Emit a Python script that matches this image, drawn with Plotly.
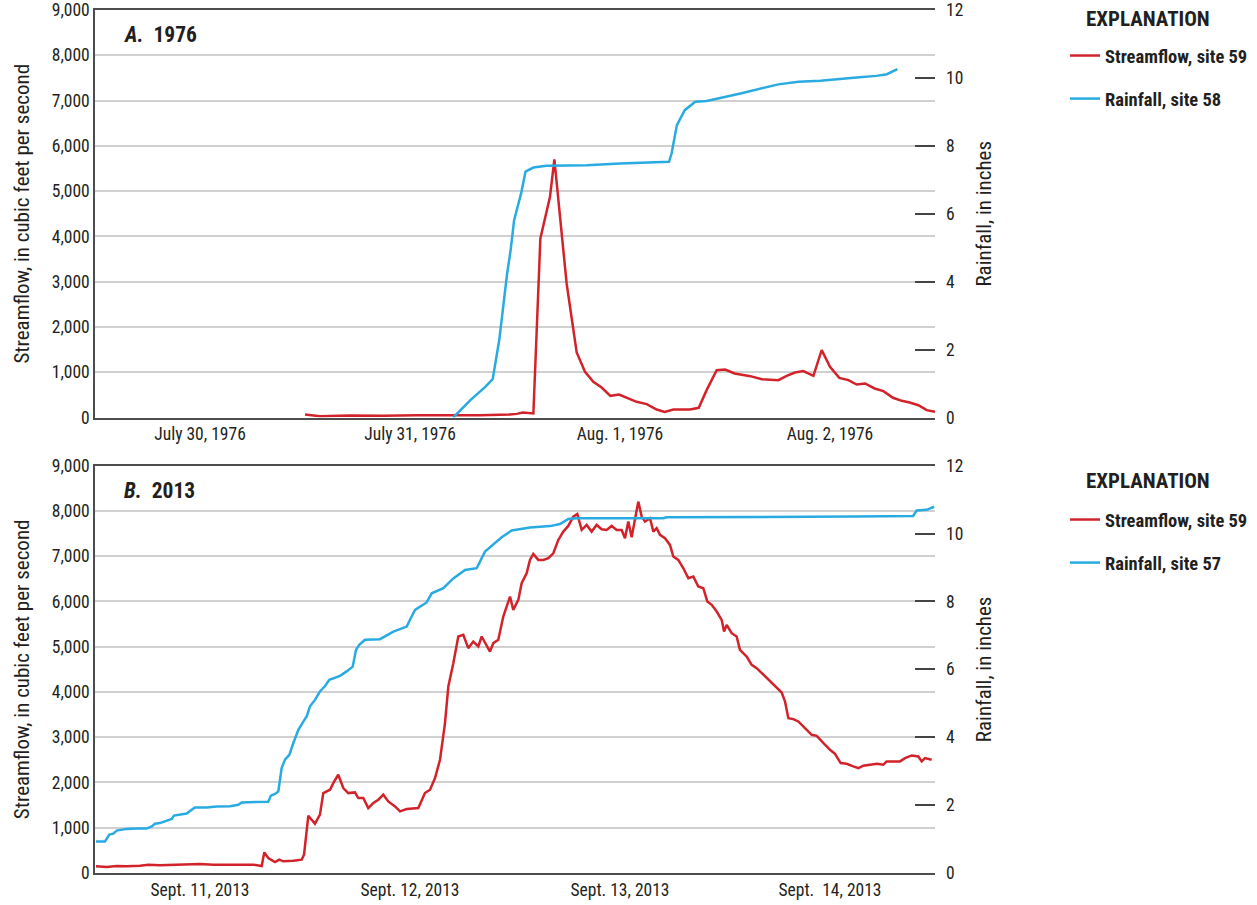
import pandas as pd
import plotly.graph_objects as go

# ---------------- DATA ----------------
# Panel A (1976): hours after 1976-07-30 00:00
flow76_hours = [24.0, 25.7, 29.1, 33.0, 36.8, 40.0, 44.0, 47.4, 48.2, 48.9, 50.1, 50.9, 52.0, 52.5,
                53.9, 55.05, 56.0, 56.95, 57.9, 58.9, 59.9, 61.9, 63.05, 64.2, 65.1, 66.1, 68.0,
                69.0, 69.9, 71.05, 72.0, 73.1, 74.9, 76.2, 78.1, 79.05, 80.0, 80.95, 82.1, 83.05,
                84.0, 85.06, 86.1, 87.05, 88.0, 89.1, 90.1, 91.2, 92.2, 93.1, 94.1, 95.05, 96.0]
flow76_cfs = [66, 30, 44, 37, 52, 45, 50, 66, 80, 110, 90, 3955, 4875, 5700,
              2960, 1436, 1009, 788, 663, 479, 508, 346, 295, 177, 125, 177, 177,
              214, 604, 1046, 1060, 972, 913, 847, 825, 920, 994, 1024, 920, 1488,
              1120, 876, 825, 729, 751, 641, 582, 435, 368, 331, 272, 162, 125]

rain76_hours = [40.95, 42.9, 44.6, 45.45, 46.2, 46.5, 47.1, 47.5, 47.9, 48.2, 48.7, 49.2, 50.1,
                51.6, 56.2, 60.0, 63.8, 65.6, 65.9, 66.5, 67.4, 68.6, 69.9, 72.2, 73.9, 78.1,
                80.4, 82.9, 84.8, 87.05, 89.3, 90.5, 91.7]
rain76_in = [0.0, 0.51, 0.90, 1.13, 2.28, 2.97, 4.24, 4.93, 5.81, 6.11, 6.60, 7.24, 7.36,
             7.41, 7.43, 7.48, 7.50, 7.53, 7.78, 8.61, 9.05, 9.30, 9.32, 9.45, 9.55, 9.81,
             9.89, 9.92, 9.97, 10.01, 10.06, 10.11, 10.26]

# Panel B (2013): hours after 2013-09-11 00:00
flow13_hours = [0.11, 1.34, 2.48, 3.62, 5.14, 6.09, 7.43, 8.95, 10.48, 12.0, 13.52, 15.8, 18.09,
                19.05, 19.35, 19.8, 20.57, 21.06, 21.52, 22.66, 23.62, 23.89, 24.19, 24.38,
                25.14, 25.71, 26.09, 26.48, 26.86, 27.23, 27.8, 28.38, 28.95, 29.71, 30.09,
                30.66, 31.23, 31.81, 32.38, 32.95, 33.52, 34.29, 34.86, 35.62, 36.95, 37.71,
                38.29, 38.86, 39.43, 40.0, 40.38, 40.95, 41.52, 42.09, 42.66, 43.23, 43.81,
                44.19, 44.76, 45.14, 45.52, 46.09, 46.66, 47.43, 47.8, 48.38, 48.76, 49.33,
                49.71, 50.09, 50.66, 51.23, 51.81, 52.38, 52.95, 53.52, 54.09, 54.66, 55.12,
                55.62, 56.19, 56.76, 57.33, 57.9, 58.47, 59.05, 59.62, 60.19, 60.57, 60.95,
                61.33, 61.71, 62.09, 62.48, 62.86, 63.43, 63.81, 64.19, 64.57, 65.14, 65.71,
                66.09, 66.66, 67.24, 67.81, 68.38, 68.95, 69.52, 69.98, 70.48, 71.05, 71.62,
                71.89, 72.19, 72.76, 73.33, 73.71, 74.48, 75.05, 75.62, 76.38, 77.14, 77.9,
                78.48, 78.86, 79.24, 79.81, 80.38, 81.14, 81.91, 82.48, 82.86, 83.43, 84.0,
                84.57, 85.22, 85.9, 86.66, 87.24, 87.81, 88.57, 89.34, 90.09, 90.48, 91.23,
                92.0, 92.57, 93.34, 94.09, 94.48, 94.86, 95.62]
flow13_cfs = [147, 132, 155, 147, 162, 184, 169, 177, 199, 199, 184, 184, 184,
              155, 456, 331, 243, 294, 258, 272, 294, 405, 1030, 1266,
              1089, 1288, 1766, 1803, 1840, 1987, 2171, 1877, 1766, 1781, 1656,
              1656, 1435, 1546, 1619, 1730, 1582, 1472, 1362, 1413, 1435, 1766,
              1840, 2098, 2502, 3312, 4122, 4637, 5226, 5262, 4968, 5115, 5005,
              5226, 5042, 4894, 5078, 5152, 5667, 6109, 5814, 6035, 6403, 6624,
              6918, 7050, 6918, 6918, 6955, 7065, 7360, 7544, 7669, 7875, 7934,
              7581, 7691, 7544, 7691, 7596, 7581, 7669, 7581, 7581, 7397, 7765,
              7419, 7802, 8206, 7875, 7765, 7838, 7544, 7618, 7471, 7397, 7250,
              6992, 6918, 6734, 6514, 6550, 6330, 6293, 6000, 5925, 5778, 5594,
              5336, 5483, 5299, 5226, 4931, 4784, 4600, 4526, 4379, 4232, 4107,
              3989, 3790, 3422, 3400, 3348, 3201, 3054, 3032, 2944, 2834, 2723,
              2635, 2429, 2414, 2355, 2318, 2370, 2392, 2414, 2392, 2466, 2466,
              2466, 2539, 2598, 2576, 2466, 2539, 2502]

rain13_hours = [0.11, 1.14, 1.64, 2.1, 2.48, 3.62, 4.76, 5.9, 6.48, 6.86, 7.43, 8.0, 8.76, 9.03,
                9.71, 10.48, 11.05, 11.43, 12.76, 13.9, 15.43, 16.38, 16.76, 18.09, 19.8, 20.1,
                20.57, 20.95, 21.33, 21.71, 22.21, 22.67, 23.24, 23.81, 24.19, 24.57, 25.14,
                25.71, 26.29, 26.78, 28.0, 28.76, 29.45, 29.83, 30.2, 30.86, 32.57, 34.1,
                35.62, 36.0, 36.57, 37.9, 38.48, 39.81, 40.95, 42.29, 43.62, 44.57, 45.52,
                46.48, 47.62, 49.71, 52.0, 53.14, 54.1, 55.05, 61.1, 64.95, 65.33, 85.1,
                86.67, 93.5, 93.9, 95.05, 95.9]
rain13_in = [0.93, 0.93, 1.13, 1.16, 1.25, 1.30, 1.31, 1.31, 1.37, 1.45, 1.47, 1.53, 1.59, 1.69,
             1.72, 1.75, 1.86, 1.93, 1.93, 1.96, 1.97, 2.01, 2.08, 2.09, 2.10, 2.28,
             2.33, 2.40, 3.09, 3.34, 3.48, 3.83, 4.22, 4.46, 4.61, 4.91, 5.10,
             5.35, 5.51, 5.69, 5.81, 5.94, 6.08, 6.57, 6.72, 6.87, 6.89, 7.11,
             7.26, 7.46, 7.75, 7.97, 8.24, 8.39, 8.68, 8.93, 8.98, 9.47, 9.67,
             9.89, 10.09, 10.18, 10.22, 10.28, 10.43, 10.45, 10.45, 10.45, 10.48, 10.48,
             10.50, 10.52, 10.68, 10.70, 10.79]

start76 = "1976-07-30"
start13 = "2013-09-11"
day_labels76 = ["July 30, 1976", "July 31, 1976", "Aug. 1, 1976", "Aug. 2, 1976"]
day_labels13 = ["Sept. 11, 2013", "Sept. 12, 2013", "Sept. 13, 2013", "Sept.\u00a0 14, 2013"]
flow_ticks = [0, 1000, 2000, 3000, 4000, 5000, 6000, 7000, 8000, 9000]
rain_ticks = [0, 2, 4, 6, 8, 10, 12]

# ---------------- STYLE ----------------
RED = "#d2232a"
BLUE = "#29abe2"
FONT = "Liberation Sans Narrow, Roboto Condensed, Arial Narrow, Roboto, sans-serif"
AX = "#4d4d4d"
GRID = "#d0d0d0"
TXT = "#231f20"


def to_time(start, hours):
    return pd.Timestamp(start) + pd.to_timedelta(pd.Series(hours), unit="h")


fig = go.Figure()

W, H = 1257, 905
ML, MR, MT, MB = 95, 322, 10, 32
PW = W - ML - MR
ph = H - MT - MB
domA = [(H - MB - 417.5) / ph, 1.0]
domB = [0.0, (H - MB - 465.7) / ph]

panels = [
    dict(start=start76, fh=flow76_hours, fv=flow76_cfs, rh=rain76_hours, rv=rain76_in,
         labels=day_labels76, rain_name="Rainfall, site 58", letter="A.", year="1976",
         xa="x", ya="y", ya2="y2", xt="x3", legend="legend", dom=domA),
    dict(start=start13, fh=flow13_hours, fv=flow13_cfs, rh=rain13_hours, rv=rain13_in,
         labels=day_labels13, rain_name="Rainfall, site 57", letter="B.", year="2013",
         xa="x2", ya="y3", ya2="y4", xt="x4", legend="legend2", dom=domB),
]

for p in panels:
    fig.add_trace(go.Scatter(x=to_time(p["start"], p["fh"]), y=p["fv"], mode="lines",
                             line=dict(color=RED, width=2.5),
                             name="<b>Streamflow, site 59</b>",
                             xaxis=p["xa"], yaxis=p["ya"], legend=p["legend"],
                             legendgroup=p["legend"] + "f"))
    fig.add_trace(go.Scatter(x=to_time(p["start"], p["rh"]), y=p["rv"], mode="lines",
                             line=dict(color=BLUE, width=2.5),
                             name="<b>" + p["rain_name"] + "</b>",
                             xaxis=p["xa"], yaxis=p["ya2"], legend=p["legend"],
                             legendgroup=p["legend"] + "r"))

layout = dict(width=W, height=H,
              margin=dict(l=ML, r=MR, t=MT, b=MB, autoexpand=False),
              paper_bgcolor="white", plot_bgcolor="white",
              font=dict(family=FONT, size=17, color=TXT))

for p in panels:
    s = pd.Timestamp(p["start"])
    rng = [s, s + pd.Timedelta(days=4)]
    noons = [s + pd.Timedelta(hours=12 + 24 * k) for k in range(4)]
    mids = [s + pd.Timedelta(days=k) for k in range(1, 4)]
    xa_key = "xaxis" if p["xa"] == "x" else "xaxis" + p["xa"][1:]
    xt_key = "xaxis" + p["xt"][1:]
    ya_key = "yaxis" if p["ya"] == "y" else "yaxis" + p["ya"][1:]
    ya2_key = "yaxis" + p["ya2"][1:]
    layout[xa_key] = dict(range=rng, type="date", anchor=p["ya"], domain=[0, 1],
                          tickvals=noons, ticktext=p["labels"], ticks="",
                          showline=True, linecolor=AX, linewidth=1.5, mirror=True,
                          showgrid=False, zeroline=False, tickfont=dict(size=17.5),
                          automargin=False)
    layout[xt_key] = dict(range=rng, type="date", anchor=p["ya"], overlaying=p["xa"],
                          tickvals=mids, ticks="inside", ticklen=18, tickwidth=1.5,
                          tickcolor="#333", mirror="ticks", showticklabels=False,
                          showline=False, showgrid=False, zeroline=False,
                          automargin=False)
    layout[ya_key] = dict(range=[0, 9000], domain=p["dom"], anchor=p["xa"],
                          tickvals=flow_ticks, tickformat=",", ticks="",
                          showgrid=True, gridcolor=GRID, gridwidth=1.5, zeroline=False,
                          showline=True, linecolor=AX, linewidth=1.5,
                          title=dict(text="Streamflow, in cubic feet per second",
                                     font=dict(size=21), standoff=16),
                          tickfont=dict(size=17.5), automargin=False)
    layout[ya2_key] = dict(range=[0, 12], domain=p["dom"], anchor=p["xa"],
                           overlaying=p["ya"], side="right", tickvals=rain_ticks,
                           ticks="inside", ticklen=20, tickwidth=1.5, tickcolor="#444",
                           ticklabelstandoff=10,
                           showgrid=False, zeroline=False, showline=False,
                           title=dict(text="Rainfall, in inches", font=dict(size=21),
                                      standoff=14),
                           tickfont=dict(size=17.5), automargin=False)

fig.update_layout(**layout)

# legends
legend_common = dict(xref="paper", yref="paper", xanchor="left", yanchor="top",
                     bgcolor="rgba(0,0,0,0)", tracegroupgap=16,
                     font=dict(size=18.5, family=FONT, color=TXT))
fig.update_layout(
    legend=dict(x=(1065 - ML) / PW, y=(H - MB - 37) / ph, **legend_common),
    legend2=dict(x=(1065 - ML) / PW, y=(H - MB - 501) / ph, **legend_common),
)

# EXPLANATION titles and panel letters
for ypx in (19, 481):
    fig.add_annotation(text="<b>EXPLANATION</b>", xref="paper", yref="paper",
                       x=(1148 - ML) / PW, y=(H - MB - ypx) / ph,
                       xanchor="center", yanchor="middle", showarrow=False,
                       font=dict(size=21, family=FONT, color=TXT))
for p in panels:
    fig.add_annotation(text="<b><i>" + p["letter"] + "</i>\u00a0 " + p["year"] + "</b>",
                       xref=p["xa"] + " domain", yref=p["ya"] + " domain",
                       x=(122 - ML) / PW, y=0.94,
                       xanchor="left", yanchor="middle", showarrow=False,
                       font=dict(size=21.5, family=FONT, color=TXT))

fig.write_html("out.html")
